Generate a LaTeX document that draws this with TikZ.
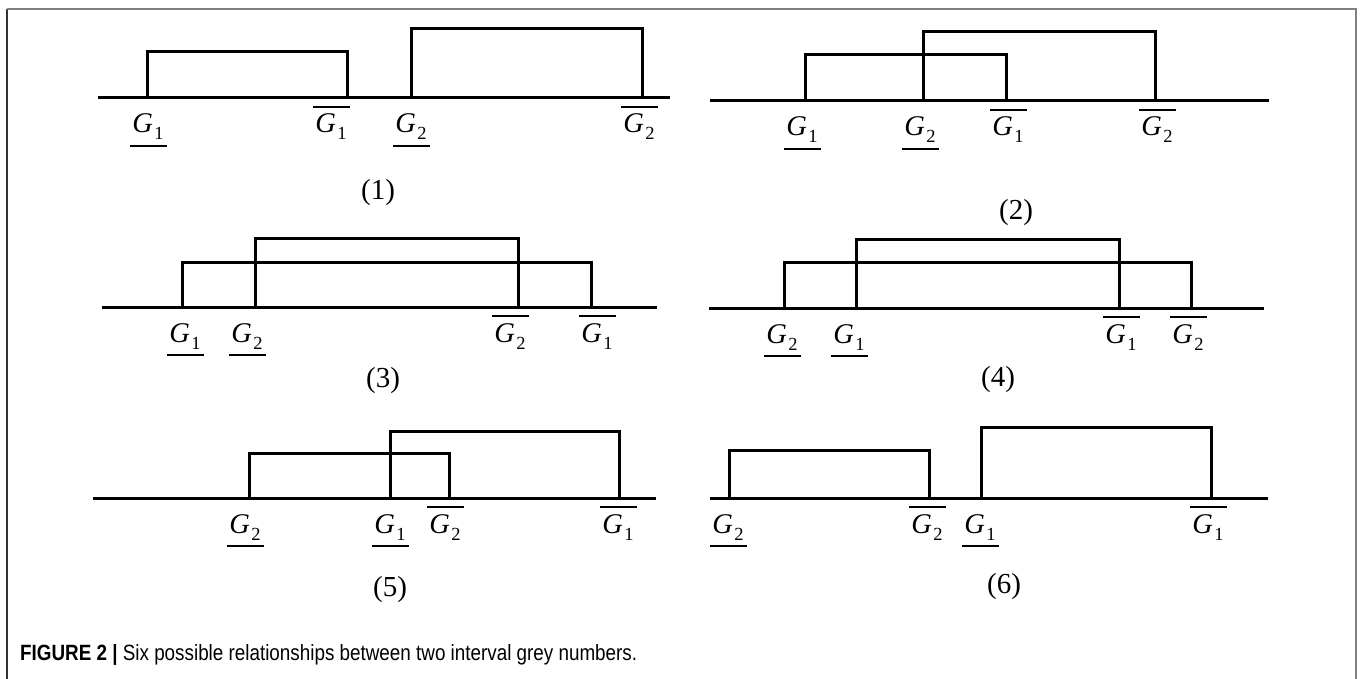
\documentclass[tikz,border=0pt]{standalone}
\usepackage{fontspec}
\setmainfont{Liberation Serif}
\newfontfamily\capsans{Liberation Sans}
\usepackage{graphicx}
\newcommand\GG[1]{\textit{G}\kern1.5pt\raisebox{-7pt}{\fontsize{18.5}{18.5}\selectfont #1}}
\tikzset{
  axisline/.style={line width=3pt},
  bar/.style={line width=3pt, line join=miter},
  lbl/.style={inner sep=0pt, anchor=base, font=\fontsize{28.5}{28.5}\selectfont},
  num/.style={inner sep=0pt, font=\fontsize{29}{29}\selectfont},
  rl/.style={line width=1.7pt},
  frame/.style={line width=2pt, draw=gray}
}
% name, x, axis y, index
\newcommand\lowlab[4]{%
  \node[lbl] (#1) at (#2,#3+35) {\GG{#4}};
  \draw[rl] ([xshift=-18.5pt,yshift=-13pt]#1.base) -- ([xshift=18.5pt,yshift=-13pt]#1.base);}
\newcommand\uplab[4]{%
  \node[lbl] (#1) at (#2,#3+35) {\GG{#4}};
  \draw[rl] ([xshift=-18.5pt,yshift=26pt]#1.base) -- ([xshift=18.5pt,yshift=26pt]#1.base);}
\begin{document}
\begin{tikzpicture}[x=1pt,y=-1pt]
\useasboundingbox (0,0) rectangle (1360,679);
\fill[white] (0,0) rectangle (1360,679);
% frame (open at bottom)
\coordinate (fbl) at (7,679);
\coordinate (ftl) at (7,9);
\coordinate (ftr) at (1356,9);
\coordinate (fbr) at (1356,679);
\draw[line width=1.5pt, draw=black!80] (fbl) -- (ftl);
\draw[frame] (ftl) -- (ftr) -- (fbr);

% ---------- Panel 1 ----------
\draw[axisline] (98,98) -- (670,98);
\draw[bar] (147,98) |- (347,52) -- (347,98);
\draw[bar] (411,98) |- (642,29) -- (642,98);
\lowlab{p1a}{148}{98}{1}
\uplab{p1b}{331}{98}{1}
\lowlab{p1c}{411}{98}{2}
\uplab{p1d}{639}{98}{2}
\node[num] (n1) at (378,193) {(1)};

% ---------- Panel 2 ----------
\draw[axisline] (710,101) -- (1269,101);
\draw[bar] (805,101) |- (1006,55) -- (1006,101);
\draw[bar] (923,101) |- (1155,32) -- (1155,101);
\lowlab{p2a}{802}{101}{1}
\lowlab{p2b}{920}{101}{2}
\uplab{p2c}{1008}{101}{1}
\uplab{p2d}{1157}{101}{2}
\node[num] (n2) at (1016,213) {(2)};

% ---------- Panel 3 ----------
\draw[axisline] (102,307) -- (657,307);
\draw[bar] (182,307) |- (591,262) -- (591,307);
\draw[bar] (255,307) |- (518,239) -- (518,307);
\lowlab{p3a}{185}{307}{1}
\lowlab{p3b}{247}{307}{2}
\uplab{p3c}{510}{307}{2}
\uplab{p3d}{597}{307}{1}
\node[num] (n3) at (383,381) {(3)};

% ---------- Panel 4 ----------
\draw[axisline] (709,308) -- (1264,308);
\draw[bar] (784,308) |- (1191,262) -- (1191,308);
\draw[bar] (856,308) |- (1119,240) -- (1119,308);
\lowlab{p4a}{782}{308}{2}
\lowlab{p4b}{849}{308}{1}
\uplab{p4c}{1121}{308}{1}
\uplab{p4d}{1188}{308}{2}
\node[num] (n4) at (998,380) {(4)};

% ---------- Panel 5 ----------
\draw[axisline] (93,498) -- (656,498);
\draw[bar] (249,498) |- (449,453) -- (449,498);
\draw[bar] (390,498) |- (619,431) -- (619,498);
\lowlab{p5a}{245}{498}{2}
\lowlab{p5b}{390}{498}{1}
\uplab{p5c}{445}{498}{2}
\uplab{p5d}{618}{498}{1}
\node[num] (n5) at (390,590) {(5)};

% ---------- Panel 6 ----------
\draw[axisline] (710,498) -- (1268,498);
\draw[bar] (729,498) |- (929,450) -- (929,498);
\draw[bar] (981,498) |- (1211,427) -- (1211,498);
\lowlab{p6a}{728}{498}{2}
\uplab{p6b}{927}{498}{2}
\lowlab{p6c}{980}{498}{1}
\uplab{p6d}{1208}{498}{1}
\node[num] (n6) at (1004,587) {(6)};

% ---------- Caption ----------
\node[anchor=base west, inner sep=0pt] (cap) at (20,660)
  {\resizebox{617pt}{16pt}{\capsans\fontsize{18}{18}\selectfont\textbf{FIGURE 2 |} Six possible relationships between two interval grey numbers.}};
\end{tikzpicture}
\end{document}
